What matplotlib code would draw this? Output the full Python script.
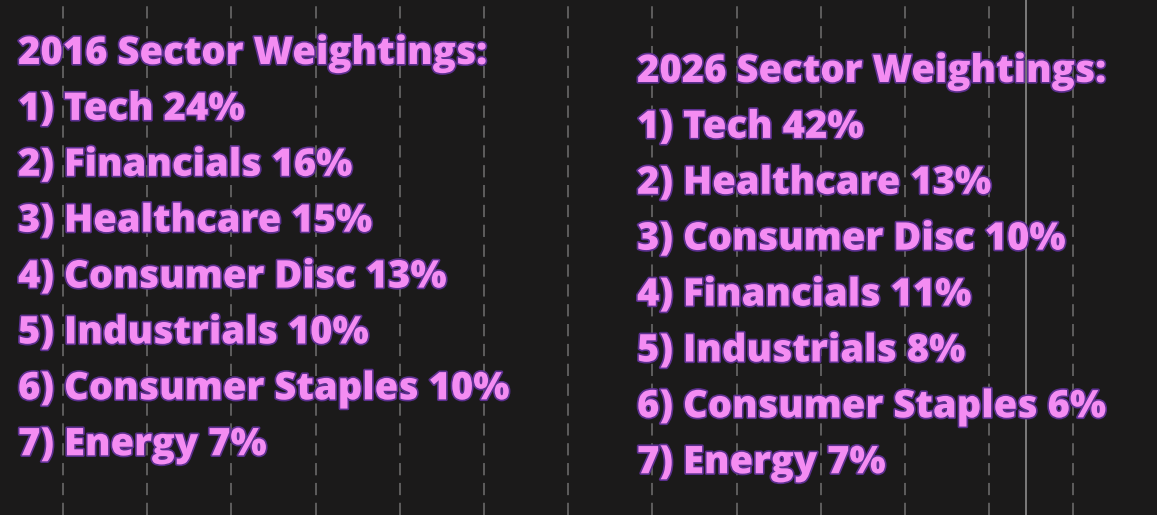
import numpy as np
import matplotlib
matplotlib.use("Agg")
import matplotlib.pyplot as plt
import matplotlib.patheffects as pe

# sector weightings, as listed in the picture
sectors_2016 = ["Tech", "Financials", "Healthcare", "Consumer Disc",
                "Industrials", "Consumer Staples", "Energy"]
weights_2016 = [24, 16, 15, 13, 10, 10, 7]
sectors_2026 = ["Tech", "Healthcare", "Consumer Disc", "Financials",
                "Industrials", "Consumer Staples", "Energy"]
weights_2026 = [42, 13, 10, 11, 8, 6, 7]
titles = ["2016 Sector Weightings:", "2026 Sector Weightings:"]

W, H = 1157, 515
bg = "#1b1a1a"
pink = "#f48cf2"

fig = plt.figure(figsize=(W / 100, H / 100), dpi=100, facecolor=bg)
ax = fig.add_axes([0, 0, 1, 1], facecolor=bg)
ax.set_xlim(0, W)
ax.set_ylim(H, 0)

# dashed vertical grid of the chart behind the text
ax.set_xticks(np.arange(63, W, 84.2))
ax.set_yticks([])
ax.grid(axis="x", color="#707070", linestyle=(0, (8, 5)), linewidth=1.1)
ax.tick_params(length=0, labelbottom=False)
for s in ax.spines.values():
    s.set_visible(False)
ax.axvline(1026, color="#8c8c8c", linewidth=1.2)

fx = [pe.withStroke(linewidth=2.4, foreground="#5b2f8f")]
font = dict(family=["Open Sans", "DejaVu Sans"], fontweight=800,
            fontsize=27.5, color=pink, va="baseline", ha="left", path_effects=fx)

columns = [(18, 64, titles[0], sectors_2016, weights_2016),
           (637, 82, titles[1], sectors_2026, weights_2026)]
step = 55.9
for x0, y0, title, names, vals in columns:
    ax.text(x0, y0, title, **font)
    for i, (n, v) in enumerate(zip(names, vals)):
        ax.text(x0, y0 + step * (i + 1), f"{i + 1}) {n} {v}%", **font)

fig.savefig("out.png", dpi=100, facecolor=bg)
